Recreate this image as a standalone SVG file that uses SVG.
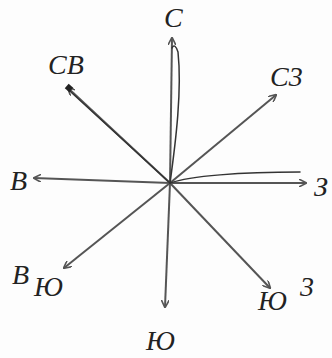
<svg xmlns="http://www.w3.org/2000/svg" width="332" height="358" viewBox="0 0 332 358">
<style>
.ax{stroke:#555;stroke-width:2;fill:none}
.pen{stroke:#333;stroke-width:1.5;fill:none;stroke-linecap:round}
.lb{font-family:"Liberation Serif",serif;font-style:italic;font-size:28px;fill:#222}
</style>
<defs>
<marker id="ah" viewBox="0 0 10 10" refX="9" refY="5" markerWidth="8" markerHeight="8" orient="auto" markerUnits="userSpaceOnUse">
<path d="M0,0 L10,5 L0,10" fill="none" stroke="#555" stroke-width="2"/>
</marker>
</defs>
<rect width="332" height="358" fill="#fdfdfd"/>
<g id="connectors">
<line class="ax" x1="170" y1="183" x2="172" y2="38" marker-end="url(#ah)"/>
<line class="ax" x1="170" y1="183" x2="68" y2="88" marker-end="url(#ah)"/>
<line class="ax" x1="170" y1="183" x2="276" y2="95" marker-end="url(#ah)"/>
<line class="ax" x1="170" y1="183" x2="34" y2="178" marker-end="url(#ah)"/>
<line class="ax" x1="170" y1="183" x2="306" y2="183" marker-end="url(#ah)"/>
<line class="ax" x1="170" y1="183" x2="64" y2="268" marker-end="url(#ah)"/>
<line class="ax" x1="170" y1="183" x2="165" y2="307" marker-end="url(#ah)"/>
<line class="ax" x1="170" y1="183" x2="270" y2="288" marker-end="url(#ah)"/>
<path class="pen" d="M170,183 C176,140 182,90 178,52 C176,46 174,44 172,48"/>
<path class="pen" d="M170,183 C190,176 240,172 300,172"/>
<path class="pen" d="M170,183 L72,93 C70,91 68,90 70,88"/>
<rect x="66" y="85" width="6" height="6" fill="#222" transform="rotate(40 69 88)"/>
</g>
<g id="n"><text class="lb" x="164" y="27">С</text></g>
<g id="nw"><text class="lb" x="48" y="74">СВ</text></g>
<g id="ne"><text class="lb" x="270" y="86">С3</text></g>
<g id="w"><text class="lb" x="10" y="190">В</text></g>
<g id="e"><text class="lb" x="314" y="196">З</text></g>
<g id="sw"><text class="lb" x="12" y="284">В</text><text class="lb" x="34" y="296">Ю</text></g>
<g id="s"><text class="lb" x="146" y="350">Ю</text></g>
<g id="se"><text class="lb" x="258" y="310">Ю</text><text class="lb" x="300" y="296">3</text></g>
</svg>
